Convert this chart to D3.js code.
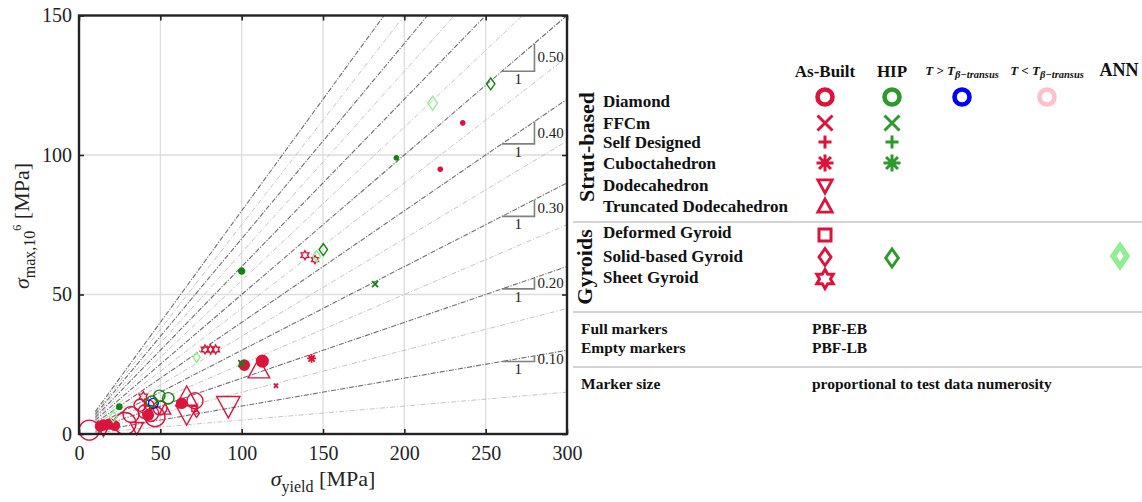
<!DOCTYPE html>
<html>
<head>
<meta charset="utf-8">
<script src="https://cdn.jsdelivr.net/npm/d3@7"></script>
<style>
  body { margin: 0; background: #fff; }
  svg { display: block; }
  text { font-family: "Liberation Serif", "Times New Roman", serif; }
</style>
</head>
<body>
<svg id="chart" width="1142" height="502"></svg>
<script>
// ---- axis ticks and fatigue-ratio guide lines ----
const xTicks = [0, 50, 100, 150, 200, 250, 300];
const yTicks = [0, 50, 100, 150];
const ratioMajor = [0.1, 0.2, 0.3, 0.4, 0.5, 0.6, 0.7, 0.8];
const ratioMinor = [0.05, 0.15, 0.25, 0.35, 0.45, 0.55, 0.65, 0.75];
const ratioLabelled = [0.1, 0.2, 0.3, 0.4, 0.5];

// ---- data: [sigma_yield MPa, sigma_max at 1e6 cycles MPa, number of tests] ----
const diamondAsBuiltLB = [
  [6.3, 1.4, 25], [28.3, 3.8, 30], [32.0, 7.0, 16], [37.5, 10.3, 9], [40.6, 8.0, 12],
  [44.0, 7.4, 16], [46.7, 6.2, 25], [43.0, 10.4, 6], [49.8, 9.3, 12], [71.3, 11.9, 16]
];
const diamondAsBuiltEB = [
  [13.0, 2.8, 5], [15.0, 3.2, 6], [19.0, 3.6, 6], [22.0, 3.0, 5], [42.6, 6.8, 6],
  [63.1, 11.0, 6], [101.6, 24.7, 6], [112.7, 26.1, 8]
];
const diamondHotLB = [[45.7, 11.0, 6]];
const diamondHipLB = [[44.7, 11.6, 8], [49.4, 13.7, 8], [54.9, 12.8, 8]];
const diamondHipEB = [[24.8, 9.8, 1.5], [100.0, 58.4, 2]];
const ffcmAsBuiltEB = [[121.1, 17.3, 2]];
const ffcmHip = [[100.0, 25.3, 5], [182.0, 53.7, 4]];
const cuboctAsBuilt = [[143.0, 27.1, 5], [222.1, 94.9, 2], [235.9, 111.5, 2]];
const cuboctHip = [[195.1, 99.0, 2]];
const dodecaAsBuilt = [[15.0, 1.6, 12], [35.5, 2.4, 14], [66.2, 7.5, 36], [91.8, 10.4, 42]];
const truncDodecaAsBuilt = [[52.9, 8.6, 10], [66.2, 12.9, 36], [110.6, 22.9, 36]];
const deformedGyroidAsBuilt = [[71.0, 9.0, 3]];
const solidGyroidAsBuilt = [[72.3, 7.4, 4]];
const sheetGyroidAsBuilt = [
  [14.0, 3.0, 6], [39.5, 13.4, 6], [77.5, 30.3, 5], [80.9, 30.3, 5], [84.0, 30.3, 5],
  [138.9, 64.1, 5], [145.1, 62.5, 4]
];
const solidGyroidHip = [[150.2, 66.1, 9], [253.1, 125.5, 9]];
const solidGyroidAnn = [[21.1, 6.2, 8], [72.3, 27.5, 6], [146.1, 63.7, 8], [217.4, 118.6, 12]];

// ---- legend text ----
const strutRows = ["Diamond", "FFCm", "Self Designed", "Cuboctahedron", "Dodecahedron", "Truncated Dodecahedron"];
const gyroidRows = ["Deformed Gyroid", "Solid-based Gyroid", "Sheet Gyroid"];
const processRows = [["Full markers", "PBF-EB"], ["Empty markers", "PBF-LB"]];

const RED = "#dc143c", GREEN = "#0f840f", LIGHT = "#90ee90", BLUE = "#0000ff", PINK = "#ffc0cb";
const LGREEN = "#2e9a2e";

// plotted series: data + marker style
const series = [
  { data: dodecaAsBuilt, shape: "triDown", color: RED, filled: false },
  { data: truncDodecaAsBuilt, shape: "triUp", color: RED, filled: false },
  { data: diamondAsBuiltLB, shape: "circle", color: RED, filled: false },
  { data: diamondAsBuiltEB, shape: "circle", color: RED, filled: true },
  { data: deformedGyroidAsBuilt, shape: "square", color: RED, filled: false },
  { data: solidGyroidAsBuilt, shape: "diamond", color: RED, filled: false },
  { data: sheetGyroidAsBuilt, shape: "hexagram", color: RED, filled: false },
  { data: ffcmAsBuiltEB, shape: "x", color: RED, filled: true },
  { data: cuboctAsBuilt, shape: "asterisk", color: RED, filled: true },
  { data: diamondHotLB, shape: "circle", color: BLUE, filled: false },
  { data: diamondHipLB, shape: "circle", color: GREEN, filled: false },
  { data: diamondHipEB, shape: "circle", color: GREEN, filled: true },
  { data: ffcmHip, shape: "x", color: GREEN, filled: true },
  { data: cuboctHip, shape: "asterisk", color: GREEN, filled: true },
  { data: solidGyroidHip, shape: "diamond", color: GREEN, filled: false },
  { data: solidGyroidAnn, shape: "diamond", color: LIGHT, filled: false }
];

function shapePath(type, r) {
  const poly = pts => "M" + pts.map(d => d[0].toFixed(2) + "," + d[1].toFixed(2)).join("L") + "Z";
  switch (type) {
    case "circle": return `M${r},0A${r},${r} 0 1 1 ${-r},0A${r},${r} 0 1 1 ${r},0Z`;
    case "x": { const a = r * 0.75; return `M${-a},${-a}L${a},${a}M${-a},${a}L${a},${-a}`; }
    case "plus": return `M${-r},0H${r}M0,${-r}V${r}`;
    case "asterisk": { const a = r * 0.7; return `M${-r},0H${r}M0,${-r}V${r}M${-a},${-a}L${a},${a}M${-a},${a}L${a},${-a}`; }
    case "triDown": return poly([[0, r], [-0.9 * r, -0.65 * r], [0.9 * r, -0.65 * r]]);
    case "triUp": return poly([[0, -r], [-0.9 * r, 0.65 * r], [0.9 * r, 0.65 * r]]);
    case "square": { const a = r * 0.75; return poly([[-a, -a], [a, -a], [a, a], [-a, a]]); }
    case "diamond": return poly([[0, -r], [0.7 * r, 0], [0, r], [-0.7 * r, 0]]);
    case "hexagram": {
      const q = [];
      for (let i = 0; i < 12; i++) {
        const ang = -Math.PI / 2 + i * Math.PI / 6;
        const rr = i % 2 ? r / Math.sqrt(3) : r;
        q.push([rr * Math.cos(ang), rr * Math.sin(ang)]);
      }
      return poly(q);
    }
  }
}

const svg = d3.select("#chart");
const x = d3.scaleLinear().domain([0, 300]).range([79, 567]);
const y = d3.scaleLinear().domain([0, 150]).range([434, 15.5]);
const size = d3.scaleSqrt().domain([0, 50]).range([0, 2 * Math.sqrt(50)]);

// grid
const grid = svg.append("g").attr("stroke", "#dddddd").attr("stroke-width", 1.3);
grid.selectAll(".gx").data(xTicks.slice(1, -1)).join("line")
  .attr("x1", d => x(d)).attr("x2", d => x(d)).attr("y1", y(0)).attr("y2", y(150));
grid.selectAll(".gy").data(yTicks.slice(1, -1)).join("line")
  .attr("x1", x(0)).attr("x2", x(300)).attr("y1", d => y(d)).attr("y2", d => y(d));

// fatigue ratio lines sigma_max = k * sigma_yield
svg.append("clipPath").attr("id", "plotClip").append("rect")
  .attr("x", x(0)).attr("y", y(150)).attr("width", x(300) - x(0)).attr("height", y(0) - y(150));
const guides = svg.append("g").attr("clip-path", "url(#plotClip)").attr("fill", "none");
const ratioLine = k => {
  const x1 = Math.min(300, 150 / k);
  return `M${x(10)},${y(10 * k)}L${x(x1)},${y(x1 * k)}`;
};
guides.selectAll(".minor").data(ratioMinor).join("path")
  .attr("d", ratioLine).attr("stroke", "#bdbdbd").attr("stroke-width", 0.9)
  .attr("stroke-dasharray", "5,2,1.2,2");
guides.selectAll(".major").data(ratioMajor).join("path")
  .attr("d", ratioLine).attr("stroke", "#6e6e6e").attr("stroke-width", 1.1)
  .attr("stroke-dasharray", "5,1.5,1.2,1.5");

// slope triangles
const tri = svg.append("g");
ratioLabelled.forEach(k => {
  tri.append("path")
    .attr("d", `M${x(260)},${y(260 * k)}H${x(280)}V${y(280 * k)}`)
    .attr("fill", "none").attr("stroke", "#808080").attr("stroke-width", 1.6);
  tri.append("text").attr("x", x(280) + 3).attr("y", (y(260 * k) + y(280 * k)) / 2 + 5)
    .attr("font-size", 15).attr("fill", "#222").text(k.toFixed(2));
  tri.append("text").attr("x", x(270)).attr("y", y(260 * k) + 13).attr("text-anchor", "middle")
    .attr("font-size", 15).attr("fill", "#222").text("1");
});

// markers
const marks = svg.append("g");
series.forEach(s => {
  marks.append("g").selectAll("path").data(s.data).join("path")
    .attr("transform", d => `translate(${x(d[0])},${y(d[1])})`)
    .attr("d", d => shapePath(s.shape, size(d[2])))
    .attr("fill", s.filled && !["x", "asterisk", "plus"].includes(s.shape) ? s.color : "none")
    .attr("stroke", s.color)
    .attr("stroke-width", s.filled ? 1.8 : 1.4);
});

// axes
const axisStyle = g => {
  g.select(".domain").remove();
  g.attr("font-family", null);
  g.selectAll(".tick line").attr("stroke", "#222").attr("stroke-width", 1.6);
  g.selectAll(".tick text").attr("font-size", 20).attr("fill", "#222");
};
svg.append("g").attr("transform", `translate(0,${y(0)})`)
  .call(d3.axisBottom(x).tickValues(xTicks).tickSizeInner(-5).tickSizeOuter(0).tickPadding(12))
  .call(axisStyle);
svg.append("g").attr("transform", `translate(${x(0)},0)`)
  .call(d3.axisLeft(y).tickValues(yTicks).tickSizeInner(-5).tickSizeOuter(0).tickPadding(7))
  .call(axisStyle);
svg.append("g").attr("transform", `translate(0,${y(150)})`)
  .call(d3.axisTop(x).tickValues(xTicks).tickSizeInner(-5).tickSizeOuter(0).tickFormat(""))
  .call(axisStyle);
svg.append("g").attr("transform", `translate(${x(300)},0)`)
  .call(d3.axisRight(y).tickValues(yTicks).tickSizeInner(-5).tickSizeOuter(0).tickFormat(""))
  .call(axisStyle);

svg.append("rect").attr("x", x(0)).attr("y", y(150)).attr("width", x(300) - x(0)).attr("height", y(0) - y(150))
  .attr("fill", "none").attr("stroke", "#222").attr("stroke-width", 2.4);

// axis titles
const xt = svg.append("text").attr("x", 323).attr("y", 486).attr("text-anchor", "middle")
  .attr("font-size", 22).attr("fill", "#222");
xt.append("tspan").attr("font-style", "italic").text("σ");
xt.append("tspan").attr("font-size", 16).attr("dy", 6).text("yield");
xt.append("tspan").attr("dy", -6).text(" [MPa]");

const yt = svg.append("text").attr("transform", "translate(29,226) rotate(-90)").attr("text-anchor", "middle")
  .attr("font-size", 22).attr("fill", "#222");
yt.append("tspan").attr("font-style", "italic").text("σ");
yt.append("tspan").attr("font-size", 16).attr("dy", 6).text("max,10");
yt.append("tspan").attr("font-size", 12).attr("dy", -14).text("6");
yt.append("tspan").attr("dy", 8).text(" [MPa]");

// ---- legend table ----
const leg = svg.append("g").attr("font-weight", "bold").attr("fill", "#111");
const col = { built: 825, hip: 892, hot: 962, cold: 1047, ann: 1120 };

leg.append("text").attr("x", col.built).attr("y", 77).attr("text-anchor", "middle").attr("font-size", 17).text("As-Built");
leg.append("text").attr("x", col.hip).attr("y", 77).attr("text-anchor", "middle").attr("font-size", 17).text("HIP");
leg.append("text").attr("x", col.ann - 1).attr("y", 76).attr("text-anchor", "middle").attr("font-size", 18).text("ANN");
[[col.hot, ">"], [col.cold, "<"]].forEach(([cx, op]) => {
  const t = leg.append("text").attr("x", cx).attr("y", 75).attr("text-anchor", "middle")
    .attr("font-size", 13).attr("font-style", "italic");
  t.append("tspan").text(`T ${op} T`);
  t.append("tspan").attr("font-size", 10.5).attr("dy", 3).text("β−transus");
});

const strutBase = [107, 129, 148, 169, 191, 212];
const gyroidBase = [238, 262, 283];
strutRows.forEach((r, i) => leg.append("text").attr("x", 603).attr("y", strutBase[i]).attr("font-size", 17).text(r));
gyroidRows.forEach((r, i) => leg.append("text").attr("x", 603).attr("y", gyroidBase[i]).attr("font-size", 17).text(r));
leg.append("text").attr("transform", "translate(594,147) rotate(-90)").attr("text-anchor", "middle")
  .attr("font-size", 22).text("Strut-based");
leg.append("text").attr("transform", "translate(592,267) rotate(-90)").attr("text-anchor", "middle")
  .attr("font-size", 22).text("Gyroids");

processRows.forEach((r, i) => {
  leg.append("text").attr("x", 581).attr("y", 334 + i * 19).attr("font-size", 15.5).text(r[0]);
  leg.append("text").attr("x", 812).attr("y", 334 + i * 19).attr("font-size", 15.5).text(r[1]);
});
leg.append("text").attr("x", 581).attr("y", 389).attr("font-size", 15.5).text("Marker size");
leg.append("text").attr("x", 812).attr("y", 389).attr("font-size", 15.5).text("proportional to test data numerosity");

[222, 312, 367].forEach(yy => svg.append("line").attr("x1", 573).attr("x2", 1142).attr("y1", yy).attr("y2", yy)
  .attr("stroke", "#c4c4c4").attr("stroke-width", 1.5));

const legMark = (cx, cy, shape, r, color, sw) => svg.append("path")
  .attr("transform", `translate(${cx},${cy})`).attr("d", shapePath(shape, r))
  .attr("fill", "none").attr("stroke", color).attr("stroke-width", sw);

legMark(col.built, 97, "circle", 7.5, RED, 4.6);
legMark(col.built, 123, "x", 10, RED, 3);
legMark(col.built, 142, "plus", 6.5, RED, 3);
legMark(col.built, 163, "asterisk", 8.5, RED, 3);
legMark(col.built, 185, "triDown", 8, RED, 2.8);
legMark(col.built, 207, "triUp", 8, RED, 2.8);
legMark(col.built, 235, "square", 8, RED, 3);
legMark(col.built, 257, "diamond", 8.5, RED, 3);
legMark(col.built, 279, "hexagram", 9.5, RED, 3);

legMark(col.hip, 97, "circle", 7.5, LGREEN, 4.6);
legMark(col.hip, 123, "x", 10, LGREEN, 3);
legMark(col.hip, 142, "plus", 6.5, LGREEN, 3);
legMark(col.hip, 163, "asterisk", 8.5, LGREEN, 3);
legMark(col.hip, 258, "diamond", 9, LGREEN, 3);

legMark(col.hot, 97, "circle", 7.5, BLUE, 4.6);
legMark(col.cold, 97, "circle", 7.5, PINK, 4.6);
legMark(col.ann, 256, "diamond", 10, LIGHT, 5.5);
</script>
</body>
</html>
